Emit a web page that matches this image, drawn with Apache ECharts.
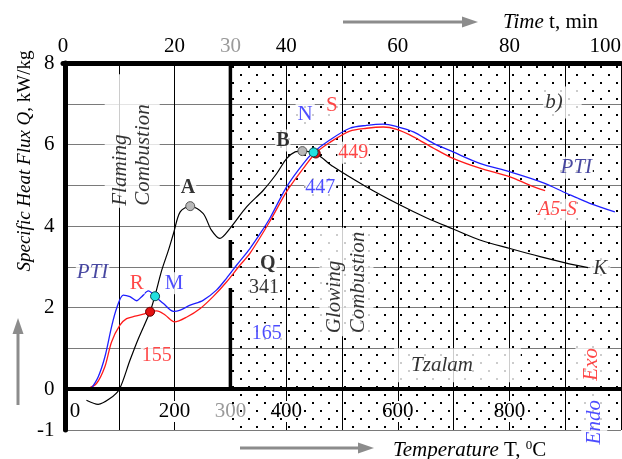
<!DOCTYPE html>
<html><head><meta charset="utf-8">
<script src="https://cdn.jsdelivr.net/npm/echarts@6/dist/echarts.min.js"></script>
<style>html,body{margin:0;padding:0;background:#fff}#c{width:622px;height:459px}</style>
</head><body><div id="c"></div>
<script>
// ---------- data ----------
const tempTicks = [0, 200, 300, 400, 600, 800];          // bottom axis labels (T, °C)
const timeTicks = [0, 20, 30, 40, 60, 80, 100];          // top axis labels (t, min)
const qTicks = [-1, 0, 2, 4, 6, 8];                       // left axis labels (Q, kW/kg)

// PTI (blue)
const ptiT = [50, 63, 75, 87, 96, 108, 120, 132, 141, 153, 165, 180, 198, 210, 228, 251, 275, 293, 311, 335, 355, 371, 401, 431, 449, 478, 514, 544, 574, 598, 628, 664, 699, 747, 801, 861, 903, 944, 989];
const ptiQ = [0, 0.3, 0.79, 1.53, 1.98, 2.31, 2.27, 2.17, 2.27, 2.41, 2.28, 2.1, 1.91, 1.94, 2.06, 2.18, 2.43, 2.72, 3.04, 3.45, 3.85, 4.2, 4.97, 5.54, 5.81, 6.11, 6.4, 6.47, 6.5, 6.44, 6.31, 6.03, 5.82, 5.54, 5.33, 5.06, 4.8, 4.56, 4.35];
// A5-S (red)
const a5sT = [42, 60, 75, 87, 102, 114, 129, 144, 156, 168, 183, 200, 222, 246, 269, 293, 317, 335, 370, 401, 431, 452, 478, 514, 544, 574, 598, 628, 664, 699, 747, 801, 837, 864];
const a5sQ = [0, 0.14, 0.55, 1.16, 1.57, 1.73, 1.79, 1.84, 1.9, 1.92, 1.82, 1.65, 1.77, 1.98, 2.27, 2.63, 3.04, 3.33, 4.1, 4.85, 5.42, 5.78, 6.05, 6.33, 6.4, 6.43, 6.37, 6.19, 5.91, 5.66, 5.42, 5.21, 5.0, 4.87];
// Tzalam (black)
const tzT = [42, 63, 84, 101, 120, 135, 156, 165, 177, 189, 198, 210, 228, 251, 266, 281, 299, 329, 359, 383, 401, 416, 429, 453, 484, 544, 598, 652, 699, 747, 801, 855, 900, 941];
const tzQ = [-0.27, -0.37, -0.23, 0, 0.71, 1.24, 1.9, 2.3, 2.92, 3.41, 3.82, 4.35, 4.49, 4.31, 3.9, 3.7, 3.94, 4.47, 4.88, 5.29, 5.66, 5.82, 5.84, 5.78, 5.46, 4.96, 4.56, 4.2, 3.93, 3.66, 3.45, 3.25, 3.1, 2.98];

// marked points
const grayPtT = [228, 429], grayPtQ = [4.49, 5.84];     // A, B
const redPtT = [156, 453], redPtQ = [1.9, 5.78];        // 155, 449
const cyanPtT = [165, 449], cyanPtQ = [2.28, 5.81];     // 165, 447

// boundary between flaming and glowing combustion
const zoneT = 300;
const boundaryQ = [[8, 4.15], [3.66, 2.97], [2.48, 0]];

// ---------- styles / layout ----------
const FF = 'Liberation Serif';
const BLUE = '#1f1fff', RED = '#ff1a1a', NAVY = '#1a1a8a', GRAYTXT = '#9a9a9a', ARROW = '#8c8c8c';

const notes = [
  {t: 'PTI', T: 53, Q: 2.87, c: NAVY, it: true},
  {t: 'R', T: 132, Q: 2.60, c: RED},
  {t: 'M', T: 199, Q: 2.60, c: BLUE},
  {t: '155', T: 168, Q: 0.81, c: RED, fs: 20},
  {t: 'A', T: 224, Q: 4.94, b: true, fs: 20},
  {t: 'B', T: 394, Q: 6.10, b: true, fs: 20},
  {t: 'N', T: 434, Q: 6.73, c: BLUE, pad: [2, 2, 0, 2]},
  {t: 'S', T: 482, Q: 6.95, c: RED, pad: [2, 2, 0, 2]},
  {t: '449', T: 520, Q: 5.80, c: RED, fs: 20},
  {t: '447', T: 461, Q: 4.94, c: BLUE, fs: 20},
  {t: 'Q', T: 367, Q: 3.07, b: true, fs: 20},
  {t: '341', T: 360, Q: 2.48, fs: 20},
  {t: '165', T: 365, Q: 1.35, c: BLUE, fs: 20},
  {t: 'Tzalam', T: 707, Q: 0.59, it: true, pad: [6, 48, 6, 17]},
  {t: 'b)', T: 895, Q: 7.03, it: true, pad: [5, 19, 5, 2]},
  {t: 'PTI', T: 920, Q: 5.43, c: NAVY, it: true},
  {t: 'A5-S', T: 886, Q: 4.40, c: RED, it: true, fs: 20},
  {t: 'K', T: 963, Q: 2.95, it: true, pad: [1, 3, 1, 3]},
  {t: 'Exo', T: 947, Q: 0.61, c: RED, it: true, rot: 90, pad: [5, 5, 5, 5]},
  {t: 'Endo', T: 952, Q: -0.81, c: BLUE, it: true, rot: 90, pad: [2, 8, 2, 8]},
  {t: 'Flaming\nCombustion', T: 124, Q: 4.45, it: true, rot: 90, al: 'left', pad: [4, 30, 5, 2], lh: 23},
  {t: 'Glowing\nCombustion', T: 508, Q: 1.30, it: true, rot: 90, al: 'left', pad: [2, 4, 3, 3], lh: 24.5}
];

// dotted pattern tile
const pat = document.createElement('canvas');
pat.width = 16; pat.height = 16;
const pc = pat.getContext('2d');
pc.fillStyle = '#000';
pc.fillRect(8, 2, 2, 2);
pc.fillRect(0, 10, 2, 2);

const zip = (a, b) => a.map((v, i) => [v, b[i]]);

const boundaryData = [];
boundaryQ.forEach((seg, i) => {
  if (i > 0) boundaryData.push([zoneT, '-']);
  boundaryData.push([zoneT, seg[0]], [zoneT, seg[1]]);
});

const splitColors = [];
for (let v = 0; v <= 1000; v += 100) splitColors.push(v === zoneT ? 'rgba(0,0,0,0)' : '#000');

const chart = echarts.init(document.getElementById('c'), null, {renderer: 'canvas'});
chart.setOption({
  animation: false,
  backgroundColor: '#fff',
  grid: {left: 63, right: 1, top: 63, bottom: 29, containLabel: false, outerBoundsMode: 'none'},
  xAxis: [{
    type: 'value', position: 'bottom', min: 0, max: 1000, interval: 100,
    axisLine: {show: false, onZero: false},
    axisTick: {show: false},
    axisLabel: {
      inside: true, margin: 8, fontFamily: FF, fontSize: 21, color: '#000', showMaxLabel: false,
      formatter: v => v === 0 ? '{z|0}' : (v === zoneT ? '{g|' + v + '}' : (tempTicks.includes(v) ? '{w|' + v + '}' : '')),
      rich: {
        z: {fontFamily: FF, fontSize: 21, color: '#000', padding: [0, 0, 0, 24]},
        w: {fontFamily: FF, fontSize: 21, color: '#000', backgroundColor: '#fff', padding: [0, 1]},
        g: {fontFamily: FF, fontSize: 21, color: GRAYTXT, backgroundColor: '#fff', padding: [0, 1]}
      }
    },
    splitLine: {show: true, lineStyle: {color: splitColors, width: 1}}
  }, {
    type: 'value', position: 'top', min: 0, max: 100, interval: 10,
    axisLine: {show: true, onZero: false, lineStyle: {color: '#000', width: 5}},
    axisTick: {show: false},
    splitLine: {show: false},
    axisLabel: {
      margin: 6, fontFamily: FF, fontSize: 21, color: '#000', alignMaxLabel: 'right',
      formatter: v => v === zoneT / 10 ? '{g|' + v + '}' : (timeTicks.includes(v) ? String(v) : ''),
      rich: {g: {fontFamily: FF, fontSize: 21, color: GRAYTXT}}
    }
  }],
  yAxis: {
    type: 'value', min: -1, max: 8, interval: 1, offset: -2.5,
    axisLine: {show: true, onZero: false, lineStyle: {color: '#000', width: 5}},
    axisTick: {show: false},
    axisLabel: {margin: 11, fontFamily: FF, fontSize: 21, color: '#000',
      formatter: v => qTicks.includes(v) ? String(v) : ''},
    splitLine: {show: true, lineStyle: {color: '#7a7a7a', width: 1}}
  },
  graphic: [
    {type: 'line', shape: {x1: 18, y1: 405, x2: 18, y2: 332}, style: {stroke: ARROW, lineWidth: 3}},
    {type: 'polygon', shape: {points: [[12.5, 334], [23.5, 334], [18, 318]]}, style: {fill: ARROW}},
    {type: 'text', x: 25, y: 161, rotation: Math.PI / 2,
      style: {text: '{i|Specific Heat Flux Q}{n|, kW/kg}', align: 'center', verticalAlign: 'middle',
        rich: {i: {fontFamily: FF, fontSize: 19, fontStyle: 'italic', fill: '#000'},
               n: {fontFamily: FF, fontSize: 19, fill: '#000'}}}},
    {type: 'line', shape: {x1: 343, y1: 22, x2: 464, y2: 22}, style: {stroke: ARROW, lineWidth: 3}},
    {type: 'polygon', shape: {points: [[462, 16.5], [462, 27.5], [478, 22]]}, style: {fill: ARROW}},
    {type: 'text', x: 503, y: 22,
      style: {text: '{i|Time}{n| t, min}', align: 'left', verticalAlign: 'middle',
        rich: {i: {fontFamily: FF, fontSize: 21, fontStyle: 'italic', fill: '#000'},
               n: {fontFamily: FF, fontSize: 21, fill: '#000'}}}},
    {type: 'line', shape: {x1: 240, y1: 448, x2: 360, y2: 448}, style: {stroke: ARROW, lineWidth: 3}},
    {type: 'polygon', shape: {points: [[358, 442.5], [358, 453.5], [374, 448]]}, style: {fill: ARROW}},
    {type: 'text', x: 393, y: 450,
      style: {text: '{i|Temperature}{n| T, }{s|0}{n|C}', align: 'left', verticalAlign: 'middle',
        rich: {i: {fontFamily: FF, fontSize: 21, fontStyle: 'italic', fill: '#000'},
               n: {fontFamily: FF, fontSize: 21, fill: '#000'},
               s: {fontFamily: FF, fontSize: 13, fill: '#000', verticalAlign: 'top'}}}}
  ],
  series: [
    {
      type: 'line', name: 'zone boundary', data: boundaryData, showSymbol: false, symbol: 'none',
      connectNulls: false, lineStyle: {color: '#000', width: 3.5}, z: 3, silent: true,
      markArea: {silent: true, itemStyle: {color: {image: pat, repeat: 'repeat'}},
        data: [[{coord: [zoneT, -1]}, {coord: [1000, 8]}]]},
      markLine: {silent: true, symbol: 'none', label: {show: false},
        lineStyle: {color: '#000', width: 4, type: 'solid'}, data: [{yAxis: 0}]}
    },
    {type: 'line', name: 'Tzalam', data: zip(tzT, tzQ), symbol: 'none', smooth: 0.3,
      lineStyle: {color: '#000', width: 1.2}, z: 4},
    {type: 'line', name: 'A5-S', data: zip(a5sT, a5sQ), symbol: 'none', smooth: 0.3,
      lineStyle: {color: RED, width: 1.3}, z: 4},
    {type: 'line', name: 'PTI', data: zip(ptiT, ptiQ), symbol: 'none', smooth: 0.3,
      lineStyle: {color: BLUE, width: 1.3}, z: 4},
    {type: 'scatter', data: zip(grayPtT, grayPtQ), symbolSize: 9, z: 5,
      itemStyle: {color: '#b8b8b8', borderColor: '#555', borderWidth: 1, opacity: 1}},
    {type: 'scatter', data: zip(redPtT, redPtQ), symbolSize: 9, z: 5,
      itemStyle: {color: '#e31010', borderColor: '#600', borderWidth: 1, opacity: 1}},
    {type: 'scatter', data: zip(cyanPtT, cyanPtQ), symbolSize: 9, z: 6,
      itemStyle: {color: '#22e0e0', borderColor: '#0a4a4a', borderWidth: 1, opacity: 1}},
    {
      type: 'scatter', symbolSize: 1, z: 10, silent: true,
      itemStyle: {color: 'rgba(0,0,0,0)'},
      label: {show: true, position: 'inside', fontFamily: FF, fontSize: 21, color: '#000',
        backgroundColor: '#fff', padding: [0, 1]},
      data: notes.map(n => ({
        value: [n.T, n.Q],
        label: {
          formatter: n.t,
          color: n.c || '#000',
          fontFamily: FF,
          fontStyle: n.it ? 'italic' : 'normal',
          fontWeight: n.b ? 'bold' : 'normal',
          fontSize: n.fs || 21,
          rotate: n.rot || 0,
          align: n.al || 'center',
          verticalAlign: 'middle',
          padding: n.pad || [0, 1],
          lineHeight: n.lh || 22
        }
      }))
    }
  ]
});
</script></body></html>
